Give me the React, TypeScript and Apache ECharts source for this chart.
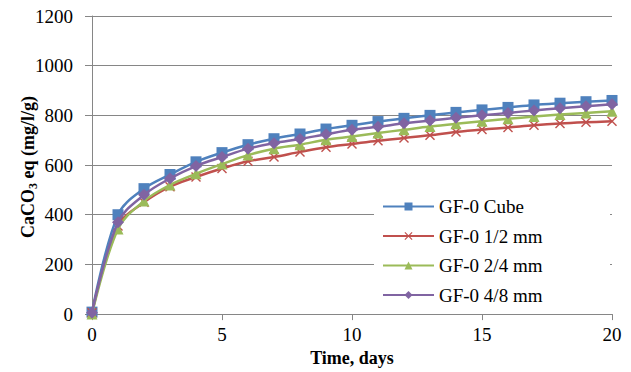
import React, { useEffect, useRef } from "react";
import * as echarts from "echarts";

const days = [0, 1, 2, 3, 4, 5, 6, 7, 8, 9, 10, 11, 12, 13, 14, 15, 16, 17, 18, 19, 20];
const seriesNames = ["GF-0 Cube", "GF-0 1/2 mm", "GF-0 2/4 mm", "GF-0 4/8 mm"];
const cube = [8, 400, 505, 562, 613, 650, 682, 706, 725, 745, 760, 775, 788, 800, 812, 822, 832, 842, 849, 855, 860];
const mm12 = [5, 355, 450, 513, 552, 586, 615, 632, 653, 672, 685, 698, 709, 720, 733, 743, 751, 760, 767, 772, 776];
const mm24 = [0, 343, 455, 520, 565, 604, 640, 666, 682, 702, 715, 729, 742, 755, 766, 776, 786, 795, 803, 810, 817];
const mm48 = [5, 370, 480, 546, 596, 632, 666, 688, 705, 724, 742, 754, 768, 779, 790, 800, 810, 820, 829, 837, 845];
const yTicks = [0, 200, 400, 600, 800, 1000, 1200];
const xTicks = [0, 5, 10, 15, 20];
const yTitle = "{a|CaCO}{s|3}{a| eq (mg/l/g)}";

const colors = ["#4F81BD", "#C0504D", "#9BBB59", "#8064A2"];
const symbols = [
  "rect",
  "path://M1,0 L5,4 L9,0 L10,1 L6,5 L10,9 L9,10 L5,6 L1,10 L0,9 L4,5 L0,1 Z",
  "triangle",
  "diamond",
];
const symbolSizes = [11, 10, 11, 12];
const FONT = "Liberation Serif";

export default function App() {
  const ref = useRef<HTMLDivElement>(null);
  useEffect(() => {
    if (!ref.current) return;
    const chart = echarts.init(ref.current, null, { renderer: "svg" });
    const allData = [cube, mm12, mm24, mm48];
    chart.setOption({
      animation: false,
      backgroundColor: "#ffffff",
      textStyle: { fontFamily: FONT },
      grid: { left: 92, right: 19, top: 16, bottom: 54, containLabel: false },
      xAxis: {
        type: "value",
        min: xTicks[0],
        max: xTicks[xTicks.length - 1],
        interval: 5,
        name: "Time, days",
        nameLocation: "middle",
        nameGap: 32,
        nameTextStyle: { fontFamily: FONT, fontSize: 18, fontWeight: "bold", color: "#000" },
        axisLine: { show: true, lineStyle: { color: "#868686", width: 1 } },
        axisTick: { show: true, length: 6, lineStyle: { color: "#868686" } },
        axisLabel: { margin: 11, fontFamily: FONT, fontSize: 19, color: "#000", formatter: (v: number) => String(v) },
        splitLine: { show: false },
      },
      yAxis: {
        type: "value",
        min: yTicks[0],
        max: yTicks[yTicks.length - 1],
        interval: 200,
        axisLine: { show: true, lineStyle: { color: "#868686", width: 1 } },
        axisTick: { show: true, length: 7, inside: false, lineStyle: { color: "#868686" } },
        axisLabel: { margin: 19, fontFamily: FONT, fontSize: 19, color: "#000", formatter: (v: number) => String(v) },
        splitLine: { show: true, lineStyle: { color: "#868686", width: 1 } },
      },
      legend: {
        orient: "vertical",
        left: 377,
        top: 192,
        itemWidth: 51,
        itemHeight: 10,
        itemGap: 10.5,
        data: seriesNames,
        textStyle: { fontFamily: FONT, fontSize: 19, color: "#000" },
        z: 10,
      },
      graphic: [
        {
          type: "rect",
          shape: { x: 374, y: 190, width: 236, height: 122 },
          style: { fill: "#ffffff" },
          z: 5,
          silent: true,
        },
        {
          type: "text",
          x: 28,
          y: 167,
          rotation: Math.PI / 2,
          z: 10,
          style: {
            text: yTitle,
            align: "center",
            verticalAlign: "middle",
            rich: {
              a: { fontFamily: FONT, fontSize: 18, fontWeight: "bold", fill: "#000", lineHeight: 22 },
              s: { fontFamily: FONT, fontSize: 12, fontWeight: "bold", fill: "#000", lineHeight: 22, verticalAlign: "bottom" },
            },
          },
        },
      ],
      series: seriesNames.map((name, i) => ({
        name,
        type: "line",
        smooth: 0.35,
        data: days.map((d, j) => [d, allData[i][j]]),
        symbol: symbols[i],
        symbolSize: symbolSizes[i],
        showAllSymbol: true,
        lineStyle: { color: colors[i], width: 2.5 },
        itemStyle: { color: colors[i] },
        z: 2 + i,
      })),
    });
    return () => chart.dispose();
  }, []);
  return <div ref={ref} style={{ width: 631, height: 372, position: "absolute", left: 0, top: 0 }} />;
}
